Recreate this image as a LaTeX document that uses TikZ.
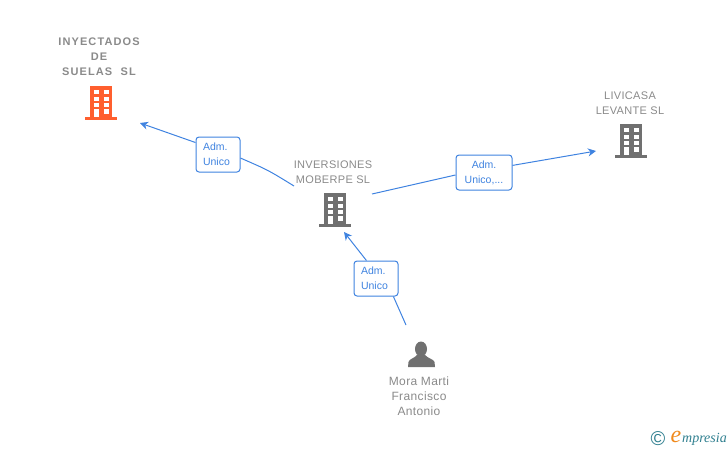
\documentclass[tikz,border=0pt]{standalone}
\usepackage{fontspec}
\setmainfont{Liberation Sans}
\newfontfamily\logofont{Liberation Serif}
\usetikzlibrary{positioning,arrows.meta,calc}
\definecolor{linkblue}{HTML}{3F83E0}
\definecolor{namegray}{HTML}{8A8A8A}
\definecolor{bldgray}{HTML}{707070}
\definecolor{bldorange}{HTML}{FF5F2E}
\definecolor{logoteal}{HTML}{2F7F8F}
\definecolor{logoorange}{HTML}{F08A1D}
\tikzset{
  firmname/.style={text=namegray,align=center,font=\fontsize{11}{15}\selectfont\addfontfeatures{LetterSpace=3}},
  admbox/.style={draw=linkblue,line width=1pt,rounded corners=3pt,fill=white,text=linkblue,
    minimum height=35pt,inner sep=0pt,font=\fontsize{10.5}{15}\selectfont},
  linkline/.style={linkblue,line width=1pt},
  pics/building/.style={code={
    \fill[#1] (-11,-16) rectangle (11,15);
    \fill[#1] (-16,15) rectangle (16,18);
    \foreach \y in {-12,-5.3,1.3} {
      \fill[white] (-7.5,\y) rectangle (-2.5,\y+4);
      \fill[white] (2.5,\y) rectangle (7.5,\y+4);
    }
    \fill[white] (-7.5,7.3) rectangle (-2.5,15);
    \fill[white] (2.5,7.3) rectangle (7.5,12);
  }}
}
\begin{document}
\begin{tikzpicture}[x=1pt,y=-1pt]
  \useasboundingbox (0,0) rectangle (728,450);

  % buildings
  \pic at (101,102) {building=bldorange};
  \pic at (335,209) {building=bldgray};
  \pic at (631,140) {building=bldgray};

  % person
  \fill[bldgray] (421,349) ellipse (6 and 7.5);
  \fill[bldgray] (408,367) -- (408.5,362) .. controls (409,359) and (414,358.5) .. (417,355)
    -- (425,355) .. controls (428,358.5) and (433.5,359) .. (434.5,362) -- (435,367) -- cycle;

  % names
  \node[firmname,font=\fontsize{11}{15}\bfseries\selectfont\addfontfeatures{LetterSpace=10}] (inyectados) at (99,57) {INYECTADOS\\DE\\SUELAS\ \ SL};
  \node[firmname] (inversiones) at (333,172) {INVERSIONES\\MOBERPE SL};
  \node[firmname] (livicasa) at (630,103) {LIVICASA\\LEVANTE SL};
  \node[firmname,font=\fontsize{12}{15}\selectfont\addfontfeatures{LetterSpace=3}] (mora) at (419,396) {Mora Marti\\Francisco\\Antonio};

  % link labels
  \node[admbox,minimum width=44pt,align=left,text width=30pt] (admA) at (218,154.5) {Adm.\\Unico};
  \node[admbox,minimum width=56pt,align=center] (admB) at (484,172.5) {Adm.\\Unico,...};
  \node[admbox,minimum width=44pt,align=left,text width=30pt] (admC) at (376,278.5) {Adm.\\Unico};

  % free ends
  \coordinate (startA) at (294,186);
  \coordinate (tipA) at (140,123);
  \coordinate (startB) at (372,194);
  \coordinate (tipB) at (596,151);
  \coordinate (startC) at (406,325);
  \coordinate (tipC) at (344,232);

  % connectors
  \draw[linkline] (startA) .. controls (268,170) .. (admA.-9);
  \draw[linkline,-{Stealth[length=8pt,width=8pt,inset=2.5pt]}] (admA.152) -- (tipA);
  \draw[linkline] (startB) -- (admB.185);
  \draw[linkline,-{Stealth[length=8pt,width=8pt,inset=2.5pt]}] (admB.14) -- (tipB);
  \draw[linkline] (startC) .. controls (400,310) .. (admC.-46);
  \draw[linkline,-{Stealth[length=8pt,width=8pt,inset=2.5pt]}] (admC.118) -- (tipC);

  % logo
  \node[text=logoteal,inner sep=0pt,font=\fontsize{20}{20}\selectfont] (copyr) at (658,439) {©};
  \node[text=logoorange,inner sep=0pt,font=\fontsize{24}{24}\logofont\itshape\selectfont] (logoe) at (676,437) {e};
  \node[text=logoteal,font=\fontsize{14}{14}\logofont\itshape\selectfont,anchor=west,inner sep=0pt] (logotext) at (682,439) {mpresia};
\end{tikzpicture}
\end{document}
